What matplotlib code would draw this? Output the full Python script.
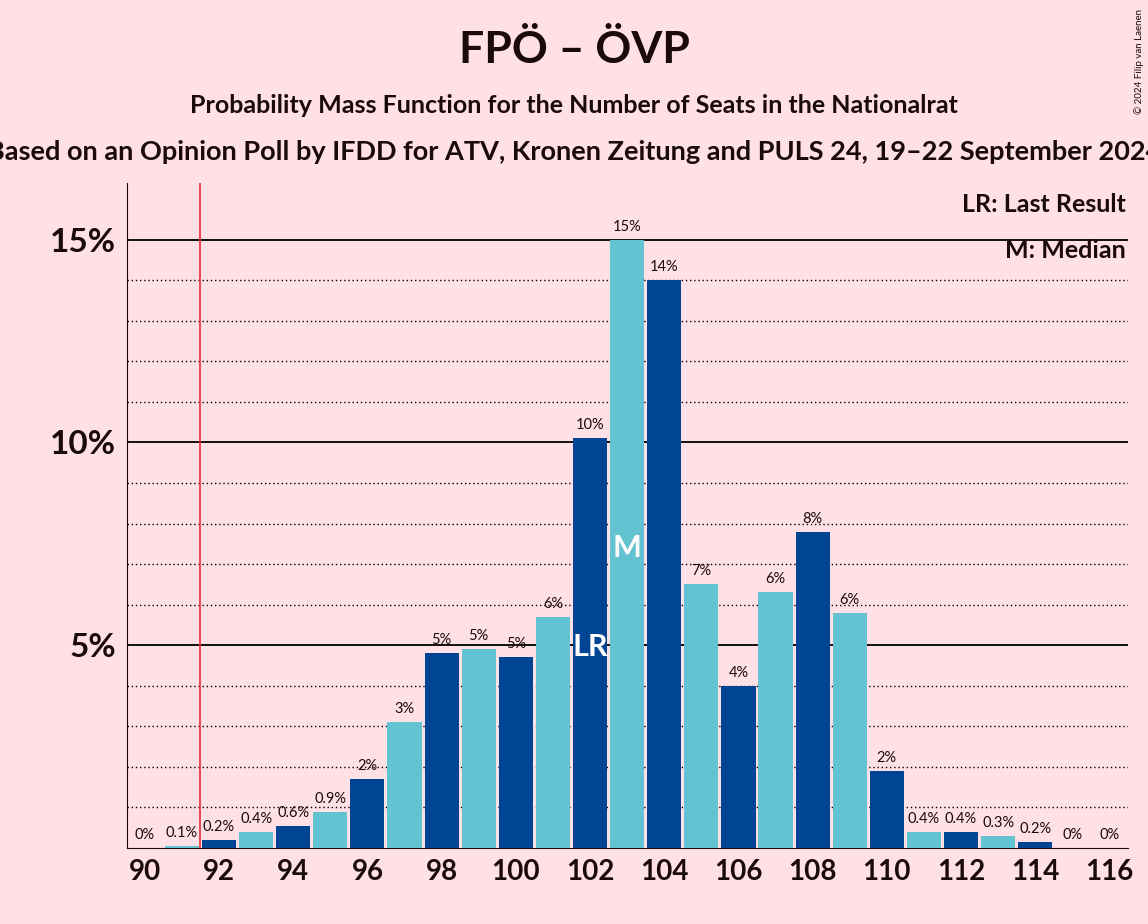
import matplotlib.pyplot as plt
import numpy as np

plt.rcParams["font.family"] = ["Lato", "DejaVu Sans"]

seats = list(range(90, 117))
probs = [0, 0.05, 0.2, 0.4, 0.55, 0.88, 1.7, 3.1, 4.8, 4.9, 4.7, 5.7, 10.1, 15.0, 14.0,
         6.5, 4.0, 6.3, 7.8, 5.8, 1.9, 0.4, 0.4, 0.3, 0.15, 0, 0]
labels = ["0%", "0.1%", "0.2%", "0.4%", "0.6%", "0.9%", "2%", "3%", "5%", "5%", "5%", "6%",
          "10%", "15%", "14%", "7%", "4%", "6%", "8%", "6%", "2%", "0.4%", "0.4%", "0.3%",
          "0.2%", "0%", "0%"]
last_result = 102
median = 103
majority = 91.5

bg = "#ffe0e6"
dark = "#004494"
light = "#63c3d1"
txt = "#1a0a0a"

fig = plt.figure(figsize=(11.48, 9.24), dpi=100, facecolor=bg)
ax = fig.add_axes([0.1106, 0.0823, 0.872, 0.7197], facecolor=bg)

colors = [dark if s % 2 == 0 else light for s in seats]
ax.bar(seats, probs, width=0.92, color=colors, zorder=3)

for y in np.arange(1, 16):
    if y % 5 == 0:
        ax.axhline(y, color="black", lw=1.3, zorder=1)
    else:
        ax.axhline(y, color="black", lw=1, ls=(0, (1, 2)), zorder=1)

ax.axvline(majority, color="#e8303a", lw=1.2, zorder=4)

for s, p, l in zip(seats, probs, labels):
    ax.text(s, p + 0.15, l, ha="center", va="bottom", fontsize=10.5, color=txt, zorder=5)

ax.text(last_result, 4.95, "LR", ha="center", va="center", fontsize=22, fontweight="bold",
        color="white", zorder=5)
ax.text(median, 7.4, "M", ha="center", va="center", fontsize=22, fontweight="bold",
        color="white", zorder=5)

ax.text(0.998, 0.985, "LR: Last Result", transform=ax.transAxes, ha="right", va="top",
        fontsize=18, fontweight="bold", color=txt)
ax.text(0.998, 0.915, "M: Median", transform=ax.transAxes, ha="right", va="top",
        fontsize=18, fontweight="bold", color=txt)

ax.set_xlim(89.52, 116.5)
ax.set_ylim(0, 16.4)
ax.set_xticks(range(90, 117, 2))
ax.set_yticks([5, 10, 15])
ax.set_yticklabels(["5%", "10%", "15%"])
ax.tick_params(axis="x", labelsize=20, length=0, pad=8, labelcolor=txt)
ax.tick_params(axis="y", labelsize=24, length=0, pad=8, labelcolor=txt)
for lab in ax.get_xticklabels() + ax.get_yticklabels():
    lab.set_fontweight("bold")
for side in ["top", "right"]:
    ax.spines[side].set_visible(False)
ax.spines["left"].set_color(txt)
ax.spines["bottom"].set_color(txt)

fig.text(0.5, 0.946, "FPÖ – ÖVP", ha="center", va="center", fontsize=32, fontweight="bold", color=txt)
fig.text(0.5, 0.886, "Probability Mass Function for the Number of Seats in the Nationalrat",
         ha="center", va="center", fontsize=18, fontweight="bold", color=txt)
fig.text(0.5, 0.835, "Based on an Opinion Poll by IFDD for ATV, Kronen Zeitung and PULS 24, 19–22 September 2024",
         ha="center", va="center", fontsize=19.5, fontweight="bold", color=txt)
fig.text(0.992, 0.99, "© 2024 Filip van Laenen", rotation=90, ha="center", va="top", fontsize=7, color=txt)

fig.savefig("out.png", facecolor=bg)
